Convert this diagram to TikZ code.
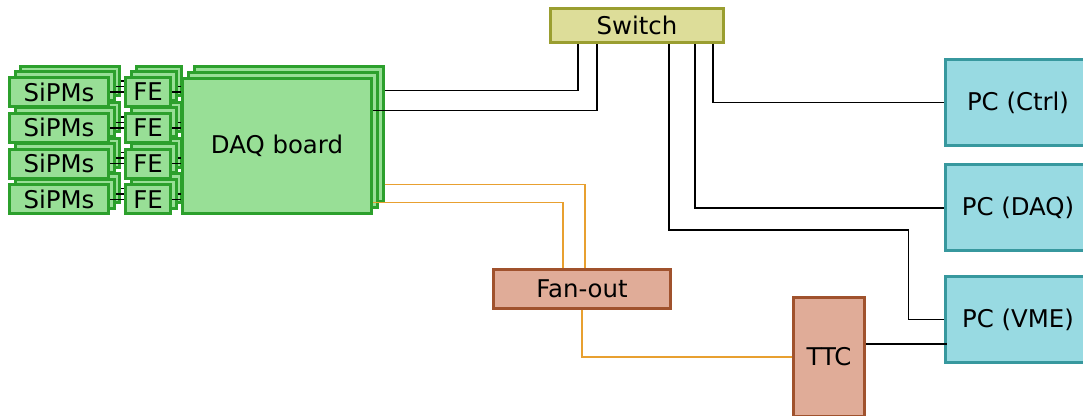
\documentclass[tikz,border=0pt]{standalone}
\usepackage{fontspec}
\setmainfont{DejaVu Sans}
\usetikzlibrary{positioning}
\usepackage{xcolor}
\definecolor{sipmfill}{RGB}{152,223,150}
\definecolor{sipmline}{RGB}{44,160,44}
\definecolor{switchfill}{RGB}{221,221,153}
\definecolor{switchline}{RGB}{154,158,48}
\definecolor{pcfill}{RGB}{152,218,226}
\definecolor{pcline}{RGB}{55,152,158}
\definecolor{ttcfill}{RGB}{224,172,152}
\definecolor{ttcline}{RGB}{160,82,45}
\definecolor{clockline}{RGB}{232,160,48}

\begin{document}
\begin{tikzpicture}[x=0.5pt,y=-0.5pt,font=\fontsize{12.2}{14}\selectfont]
\tikzstyle{board} = [rectangle, draw=sipmline, line width=1.5pt, fill=sipmfill, inner sep=0pt]
\tikzstyle{sipm} = [board, minimum width=49.5pt, minimum height=14.5pt]
\tikzstyle{fe} = [board, minimum width=22.5pt, minimum height=14.5pt]
\tikzstyle{daq} = [board, minimum width=94.5pt, minimum height=67.5pt]
\tikzstyle{switch} = [rectangle, draw=switchline, line width=1.5pt, fill=switchfill,
minimum width=86.5pt, minimum height=17pt]
\tikzstyle{pc} = [rectangle, draw=pcline, line width=1.5pt, fill=pcfill,
minimum width=72.5pt, minimum height=43pt]
\tikzstyle{timing} = [rectangle, draw=ttcline, line width=1.5pt, fill=ttcfill]
\tikzstyle{link} = [draw, line width=0.75pt]
\tikzstyle{clock} = [draw=clockline, line width=0.75pt]

\useasboundingbox (0,0) rectangle (1083,416);

% stacked boards, back layer first
\foreach \k in {2,1,0} {
  \node [daq] (daq\k) at (277+5.8*\k, 146-5.8*\k) {\ifnum\k=0 DAQ board\fi};
  \foreach \r in {1,...,4} {
    \node [sipm] (sipm\r-\k) at (59+5.5*\k, 56.2+35.8*\r-5.5*\k) {\ifnum\k=0 SiPMs\fi};
    \node [fe] (fe\r-\k) at (148+5.5*\k, 56.2+35.8*\r-5.5*\k) {\ifnum\k=0 FE\fi};
    \path [link] (sipm\r-\k.east) -- (fe\r-\k.west);
    \path [link] (fe\r-\k.east) -- (fe\r-\k.east -| daq\k.west);
  }
}

\node [switch] (switch) at (637,25.5) {Switch};
\node [pc] (pc_ctrl) at (1018,102.5) {PC (Ctrl)};
\node [pc] (pc_daq) at (1018,208) {PC (DAQ)};
\node [pc] (pc_vme) at (1018,319.5) {PC (VME)};
\node [timing, minimum width=88.5pt, minimum height=19.5pt] (fanout) at (582,289) {Fan-out};
\node [timing, minimum width=35.5pt, minimum height=59.5pt] (ttc) at (829,357) {TTC};

% network
\path [link] ([yshift=-12.55pt]daq2.north east) -| ([xshift=-29.5pt]switch.south);
\path [link] ([yshift=-16.75pt]daq0.north east) -| ([xshift=-20pt]switch.south);
\path [link] ([xshift=38pt]switch.south) |- (pc_ctrl.west);
\path [link] ([xshift=29pt]switch.south) |- (pc_daq.west);
\path [link] ([xshift=16pt]switch.south) -- ++(0,186) -| ([xshift=-17.75pt]pc_vme.west) -- (pc_vme.west);
\path [link] ([yshift=6.5pt]ttc.east) -- ++(81,0);

% clock
\path [clock] ([yshift=9.45pt]daq2.south east) -| ([xshift=1.5pt]fanout.north);
\path [clock] ([yshift=6.25pt]daq0.south east) -| ([xshift=-9.5pt]fanout.north);
\path [clock] (fanout.south) |- (ttc.west);
\end{tikzpicture}
\end{document}
